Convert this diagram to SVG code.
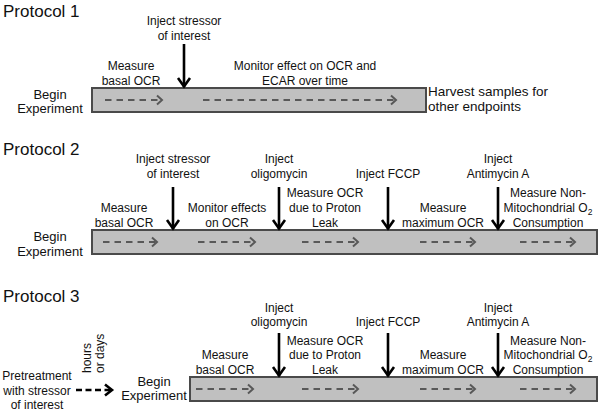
<svg xmlns="http://www.w3.org/2000/svg" width="600" height="413" viewBox="0 0 600 413">
<defs>
<style>
text{font-family:"Liberation Sans",Arial,sans-serif;fill:#111;}
.t{font-size:17px;}
.l{font-size:12px;text-anchor:middle;}
.b{font-size:13px;text-anchor:middle;}
.h{font-size:13.5px;}
.bar{fill:#c0c0c0;stroke:#4a4a4a;stroke-width:2;}
.dg{stroke:#585858;stroke-width:2;stroke-dasharray:6.5 5;fill:none;marker-end:url(#gh);}
.ar{stroke:#000;stroke-width:2.6;fill:none;marker-end:url(#bh);}
.dk{stroke:#000;stroke-width:2.6;stroke-dasharray:6 3.5;fill:none;marker-end:url(#kh);}
</style>
<marker id="gh" markerUnits="userSpaceOnUse" markerWidth="14" markerHeight="14" viewBox="-8 -7 10 14" refX="0" refY="0" orient="auto" overflow="visible">
<path d="M-5,-4.5 L0,0 L-5,4.5" fill="none" stroke="#585858" stroke-width="2"/>
</marker>
<marker id="bh" markerUnits="userSpaceOnUse" markerWidth="16" markerHeight="16" viewBox="-10 -8 12 16" refX="0" refY="0" orient="auto" overflow="visible">
<path d="M-9,-6 L-0.5,0 L-9,6" fill="none" stroke="#000" stroke-width="2.6"/>
</marker>
<marker id="kh" markerUnits="userSpaceOnUse" markerWidth="16" markerHeight="16" viewBox="-10 -8 12 16" refX="0" refY="0" orient="auto" overflow="visible">
<path d="M-7,-5.5 L0,0 L-7,5.5" fill="none" stroke="#000" stroke-width="2.6"/>
</marker>
</defs>
<rect width="600" height="413" fill="#fff"/>

<!-- Protocol 1 -->
<g id="protocol1">
<text class="t" x="3" y="17">Protocol 1</text>
<g id="p1-begin"><text class="b" x="50" y="99">Begin</text><text class="b" x="50" y="113">Experiment</text></g>
<g id="p1-bar"><rect class="bar" x="92" y="88" width="334" height="24"/></g>
<g id="p1-inject"><text class="l" x="184" y="25">Inject stressor</text><text class="l" x="184" y="40">of interest</text></g>
<g id="p1-basal"><text class="l" x="131" y="70">Measure</text><text class="l" x="131" y="85">basal OCR</text></g>
<g id="p1-monitor"><text class="l" x="305" y="70">Monitor effect on OCR and</text><text class="l" x="305" y="85">ECAR over time</text></g>
<g id="p1-harvest"><text class="h" x="428" y="96">Harvest samples for</text><text class="h" x="428" y="111">other endpoints</text></g>
</g>

<!-- Protocol 2 -->
<g id="protocol2">
<text class="t" x="3" y="155">Protocol 2</text>
<g id="p2-begin"><text class="b" x="50" y="241">Begin</text><text class="b" x="50" y="256">Experiment</text></g>
<g id="p2-bar"><rect class="bar" x="92" y="230" width="505" height="24"/></g>
<g id="p2-inject"><text class="l" x="173" y="163">Inject stressor</text><text class="l" x="173" y="178">of interest</text></g>
<g id="p2-oligo"><text class="l" x="279" y="163">Inject</text><text class="l" x="279" y="178">oligomycin</text></g>
<g id="p2-fccp"><text class="l" x="388" y="178">Inject FCCP</text></g>
<g id="p2-anti"><text class="l" x="498" y="163">Inject</text><text class="l" x="498" y="178">Antimycin A</text></g>
<g id="p2-basal"><text class="l" x="124" y="212">Measure</text><text class="l" x="124" y="227">basal OCR</text></g>
<g id="p2-monitor"><text class="l" x="227" y="212">Monitor effects</text><text class="l" x="227" y="227">on OCR</text></g>
<g id="p2-leak"><text class="l" x="325" y="197">Measure OCR</text><text class="l" x="325" y="212">due to Proton</text><text class="l" x="325" y="227">Leak</text></g>
<g id="p2-max"><text class="l" x="443" y="212">Measure</text><text class="l" x="443" y="227">maximum OCR</text></g>
<g id="p2-nonmito"><text class="l" x="548" y="197">Measure Non-</text><text class="l" x="548" y="212">Mitochondrial O<tspan font-size="8.5" dy="3">2</tspan></text><text class="l" x="548" y="227">Consumption</text></g>
</g>

<!-- Protocol 3 -->
<g id="protocol3">
<text class="t" x="3" y="302">Protocol 3</text>
<g id="p3-pre"><text class="l" x="37" y="380">Pretreatment</text><text class="l" x="37" y="395">with stressor</text><text class="l" x="37" y="409">of interest</text></g>
<g id="p3-time"><text class="l" style="text-anchor:start" transform="translate(91,373) rotate(-90)">hours</text><text class="l" style="text-anchor:start" transform="translate(104,373) rotate(-90)">or days</text></g>
<g id="p3-begin"><text class="b" x="154" y="386">Begin</text><text class="b" x="154" y="400">Experiment</text></g>
<g id="p3-bar"><rect class="bar" x="190" y="377" width="407" height="24"/></g>
<g id="p3-basal"><text class="l" x="225" y="359">Measure</text><text class="l" x="225" y="374">basal OCR</text></g>
<g id="p3-oligo"><text class="l" x="279" y="312">Inject</text><text class="l" x="279" y="326">oligomycin</text></g>
<g id="p3-fccp"><text class="l" x="388" y="326">Inject FCCP</text></g>
<g id="p3-anti"><text class="l" x="498" y="312">Inject</text><text class="l" x="498" y="326">Antimycin A</text></g>
<g id="p3-leak"><text class="l" x="325" y="345">Measure OCR</text><text class="l" x="325" y="359">due to Proton</text><text class="l" x="325" y="374">Leak</text></g>
<g id="p3-max"><text class="l" x="443" y="359">Measure</text><text class="l" x="443" y="374">maximum OCR</text></g>
<g id="p3-nonmito"><text class="l" x="548" y="345">Measure Non-</text><text class="l" x="548" y="359">Mitochondrial O<tspan font-size="8.5" dy="3">2</tspan></text><text class="l" x="548" y="374">Consumption</text></g>
</g>

<g id="connectors">
<!-- P1 -->
<line class="dg" x1="105" y1="100" x2="162" y2="100"/>
<line class="dg" x1="203" y1="100" x2="396" y2="100"/>
<line class="ar" x1="184" y1="44" x2="184" y2="87"/>
<!-- P2 -->
<line class="dg" x1="103" y1="242" x2="157" y2="242"/>
<line class="dg" x1="198" y1="242" x2="255" y2="242"/>
<line class="dg" x1="302" y1="242" x2="358" y2="242"/>
<line class="dg" x1="420" y1="242" x2="475" y2="242"/>
<line class="dg" x1="520" y1="242" x2="575" y2="242"/>
<line class="ar" x1="173" y1="187" x2="173" y2="229"/>
<line class="ar" x1="279" y1="187" x2="279" y2="229"/>
<line class="ar" x1="388" y1="187" x2="388" y2="229"/>
<line class="ar" x1="498" y1="187" x2="498" y2="229"/>
<!-- P3 -->
<line class="dg" x1="196" y1="389" x2="253" y2="389"/>
<line class="dg" x1="302" y1="389" x2="358" y2="389"/>
<line class="dg" x1="420" y1="389" x2="475" y2="389"/>
<line class="dg" x1="520" y1="389" x2="575" y2="389"/>
<line class="ar" x1="279" y1="333" x2="279" y2="376"/>
<line class="ar" x1="388" y1="333" x2="388" y2="376"/>
<line class="ar" x1="498" y1="333" x2="498" y2="376"/>
<line class="dk" x1="76" y1="390" x2="112" y2="390"/>
</g>
</svg>
